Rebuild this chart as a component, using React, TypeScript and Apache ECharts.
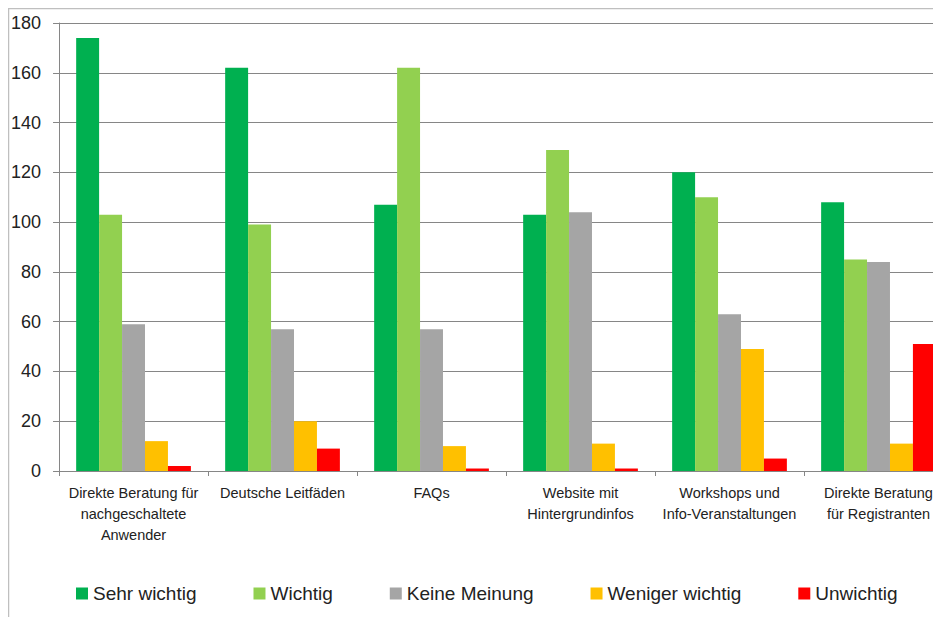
import React, { useEffect, useRef } from "react";
import * as echarts from "echarts";

const categories = [
  "Direkte Beratung für\nnachgeschaltete\nAnwender",
  "Deutsche Leitfäden",
  "FAQs",
  "Website mit\nHintergrundinfos",
  "Workshops und\nInfo-Veranstaltungen",
  "Direkte Beratung\nfür Registranten",
];

const seriesNames = ["Sehr wichtig", "Wichtig", "Keine Meinung", "Weniger wichtig", "Unwichtig"];
const seriesColors = ["#00B050", "#92D050", "#A5A5A5", "#FFC000", "#FF0000"];

const sehrWichtig = [174, 162, 107, 103, 120, 108];
const wichtig = [103, 99, 162, 129, 110, 85];
const keineMeinung = [59, 57, 57, 104, 63, 84];
const wenigerWichtig = [12, 20, 10, 11, 49, 11];
const unwichtig = [2, 9, 1, 1, 5, 51];

const seriesValues = [sehrWichtig, wichtig, keineMeinung, wenigerWichtig, unwichtig];

export default function App() {
  const ref = useRef<HTMLDivElement>(null);
  useEffect(() => {
    if (!ref.current) return;
    const chart = echarts.init(ref.current, null, { renderer: "svg" });
    const font = "'Liberation Sans', Arial, sans-serif";
    chart.setOption({
      animation: false,
      backgroundColor: "#ffffff",
      textStyle: { fontFamily: font },
      graphic: [
        { type: "line", shape: { x1: 0, y1: 0.5, x2: 960, y2: 0.5 }, style: { stroke: "#BFBFBF", lineWidth: 1.5 } },
        { type: "line", shape: { x1: 0.5, y1: 0, x2: 0.5, y2: 640 }, style: { stroke: "#BFBFBF", lineWidth: 1.5 } },
      ],
      grid: { left: 48, top: 15, width: 897, height: 448, containLabel: false },
      legend: {
        left: 63,
        top: 571,
        icon: "rect",
        itemWidth: 12,
        itemHeight: 12,
        itemGap: 57,
        textStyle: { fontSize: 19, color: "#222", fontFamily: font },
        data: seriesNames,
      },
      xAxis: {
        type: "category",
        data: categories,
        axisLine: { lineStyle: { color: "#868686", width: 1 } },
        axisTick: { show: true, length: 5, alignWithLabel: false, interval: 0, lineStyle: { color: "#868686" } },
        axisLabel: { interval: 0, fontSize: 14.5, color: "#222", margin: 11, lineHeight: 21, fontFamily: font },
      },
      yAxis: {
        type: "value",
        min: 0,
        max: 180,
        interval: 20,
        axisLine: { show: true, lineStyle: { color: "#868686", width: 1 } },
        axisTick: { show: true, length: 6, lineStyle: { color: "#868686" } },
        axisLabel: { fontSize: 18, color: "#222", margin: 18, fontFamily: font },
        splitLine: { lineStyle: { color: "#868686", width: 1 } },
      },
      series: seriesNames.map((name, i) => ({
        name,
        type: "bar",
        data: seriesValues[i],
        itemStyle: { color: seriesColors[i] },
        barGap: "0%",
        barCategoryGap: "23%",
      })),
    });
    return () => chart.dispose();
  }, []);
  return (
    <div style={{ width: 933, height: 609, overflow: "hidden", position: "relative" }}>
      <div ref={ref} style={{ width: 960, height: 640 }} />
    </div>
  );
}
